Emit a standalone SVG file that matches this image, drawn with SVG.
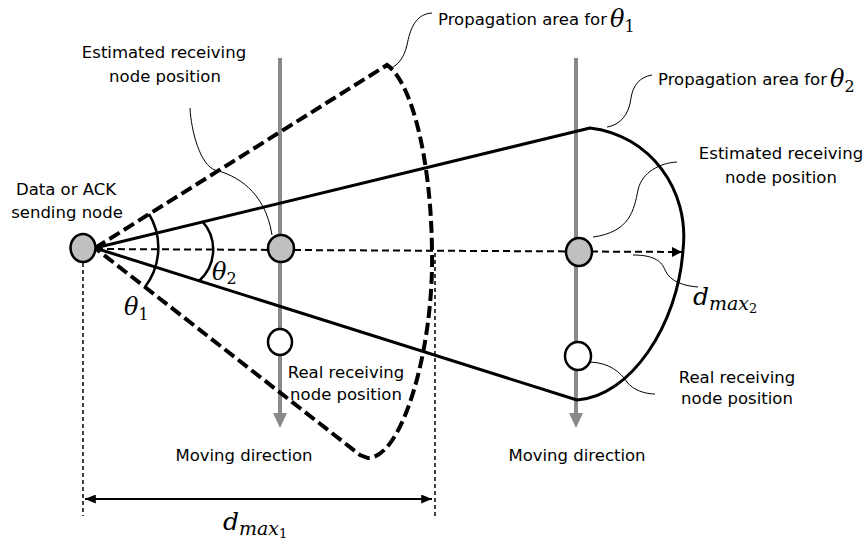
<svg xmlns="http://www.w3.org/2000/svg" width="868" height="543" viewBox="0 0 868 543">
<defs>
<marker id="ah" viewBox="0 0 10 10" refX="10" refY="5" markerWidth="10" markerHeight="10" markerUnits="userSpaceOnUse" orient="auto-start-reverse"><path d="M0,0 L10,5 L0,10 Z" fill="#000"/></marker>
<marker id="ah2" viewBox="0 0 12 10" refX="12" refY="5" markerWidth="12" markerHeight="9" markerUnits="userSpaceOnUse" orient="auto-start-reverse"><path d="M0,0 L12,5 L0,10 Z" fill="#000"/></marker>
</defs>
<style>
.lbl{font-family:"DejaVu Sans",Verdana,sans-serif;font-size:16.5px;fill:#000}
.math{font-family:"DejaVu Serif","Liberation Serif",serif;font-style:italic;fill:#000}
.up{font-style:normal}
.gray{stroke:#8a8a8a;stroke-width:4;fill:none}
.garrow{fill:#8a8a8a}
.dcone{stroke:#000;stroke-width:4;stroke-dasharray:12,5;fill:none}
.scone{stroke:#000;stroke-width:3;fill:none}
.axis{stroke:#000;stroke-width:2;stroke-dasharray:7,4;fill:none}
.vdash{stroke:#000;stroke-width:1.5;stroke-dasharray:4,3;fill:none}
.thin{stroke:#000;stroke-width:1;fill:none}
.ang{stroke:#000;stroke-width:2.5;fill:none}
.est{fill:#c0c0c0;stroke:#000;stroke-width:2.5}
.real{fill:#fff;stroke:#000;stroke-width:2.5}
</style>
<rect width="868" height="543" fill="#fff"/>

<g id="connectors">
  <!-- moving direction lines -->
  <line class="gray" x1="280" y1="58" x2="280" y2="414"/>
  <polygon class="garrow" points="273,413 287,413 280,428"/>
  <line class="gray" x1="576" y1="58" x2="576" y2="414"/>
  <polygon class="garrow" points="569,413 583,413 576,428"/>
  <!-- propagation area theta1 (dashed) -->
  <path class="dcone" d="M95,248 L387,65 C412,82 431,160 432,250 C434,350 402,458 368,458 L360,455 L95,248"/>
  <!-- propagation area theta2 (solid) -->
  <path class="scone" d="M95,248 L590,128 C650,135 690,190 683,250 C678,325 630,397 577,400 Z" stroke-linejoin="round"/>
  <!-- axis -->
  <line class="axis" x1="96" y1="249" x2="682" y2="252" marker-end="url(#ah)"/>
  <!-- vertical dashed limits -->
  <line class="vdash" x1="83" y1="263" x2="83" y2="516"/>
  <line class="vdash" x1="435" y1="253" x2="435" y2="516"/>
  <!-- d_max1 dimension -->
  <line x1="85" y1="499" x2="432" y2="499" stroke="#000" stroke-width="2" marker-start="url(#ah2)" marker-end="url(#ah2)"/>
  <!-- angle arcs -->
  <path class="ang" d="M149,214 A65,65 0 0 1 145,287"/>
  <path class="ang" d="M202,221 A42,42 0 0 1 199,281"/>
  <!-- leader lines -->
  <path class="thin" d="M432,13 C415,14 410,30 407,45 C404,58 398,65 391,68"/>
  <path class="thin" d="M652,75 C640,77 633,85 631,98 C629,115 620,125 607,127"/>
  <path class="thin" d="M190,108 C191,130 200,165 215,170 C235,175 265,190 272,235"/>
  <path class="thin" d="M677,162 C660,163 642,172 638,190 C634,210 630,232 593,237"/>
  <path class="thin" d="M633,255 C655,255 662,262 665,270 C670,282 685,286 698,287"/>
  <path class="thin" d="M590,362 C610,363 620,372 627,382 C633,390 645,394 655,394"/>
</g>

<g id="sender">
  <ellipse class="est" cx="83" cy="248" rx="12.5" ry="14"/>
  <text class="lbl" x="66" y="195" text-anchor="middle">Data or ACK</text>
  <text class="lbl" x="67" y="218" text-anchor="middle">sending node</text>
</g>
<g id="est1">
  <ellipse class="est" cx="281" cy="248.5" rx="13" ry="13.5"/>
  <text class="lbl" x="164" y="58" text-anchor="middle">Estimated receiving</text>
  <text class="lbl" x="165" y="82" text-anchor="middle">node position</text>
</g>
<g id="real1">
  <ellipse class="real" cx="280" cy="342" rx="12" ry="13"/>
  <text class="lbl" x="346" y="378" text-anchor="middle">Real receiving</text>
  <text class="lbl" x="346" y="400" text-anchor="middle">node position</text>
</g>
<g id="est2">
  <ellipse class="est" cx="579" cy="252" rx="13" ry="14"/>
  <text class="lbl" x="781" y="159" text-anchor="middle">Estimated receiving</text>
  <text class="lbl" x="781" y="183" text-anchor="middle">node position</text>
</g>
<g id="real2">
  <ellipse class="real" cx="578" cy="356" rx="13" ry="14"/>
  <text class="lbl" x="737" y="383" text-anchor="middle">Real receiving</text>
  <text class="lbl" x="737" y="404" text-anchor="middle">node position</text>
</g>
<g id="moving1">
  <text class="lbl" x="244" y="461" text-anchor="middle">Moving direction</text>
</g>
<g id="moving2">
  <text class="lbl" x="577" y="461" text-anchor="middle">Moving direction</text>
</g>
<g id="area1">
  <text class="lbl" x="438" y="25">Propagation area for</text>
  <text class="math" x="610" y="27" font-size="24">θ<tspan class="up" font-size="16" dy="5">1</tspan></text>
</g>
<g id="area2">
  <text class="lbl" x="658" y="85">Propagation area for</text>
  <text class="math" x="830" y="87" font-size="24">θ<tspan class="up" font-size="16" dy="5">2</tspan></text>
</g>
<g id="theta-labels">
  <text class="math" x="124" y="315" font-size="24">θ<tspan class="up" font-size="16" dy="5">1</tspan></text>
  <text class="math" x="212" y="280" font-size="24">θ<tspan class="up" font-size="16" dy="4">2</tspan></text>
</g>
<g id="dmax">
  <text class="math" x="223" y="530" font-size="25">d<tspan font-size="19" dy="5">max</tspan><tspan class="up" font-size="13" dy="3">1</tspan></text>
  <text class="math" x="693" y="305" font-size="25">d<tspan font-size="19" dy="5">max</tspan><tspan class="up" font-size="13" dy="3">2</tspan></text>
</g>
</svg>
